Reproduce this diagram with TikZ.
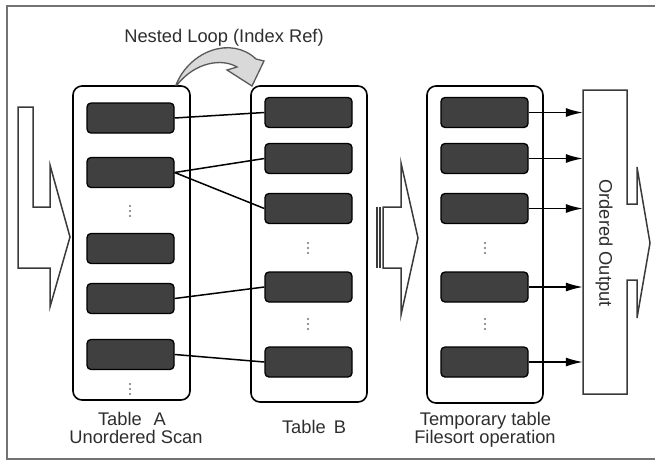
\documentclass[tikz,border=0pt]{standalone}
\usepackage{fontspec}
\setmainfont{Liberation Sans}
\usetikzlibrary{arrows.meta}
\definecolor{rowgray}{HTML}{404040}
\definecolor{txtgray}{HTML}{2E2E2E}
\definecolor{outline}{HTML}{3A3A3A}
\definecolor{loopfill}{HTML}{D9D9D9}
\begin{document}
\begin{tikzpicture}[x=1pt,y=-1pt,
  txt/.style={font=\fontsize{18.3}{19}\selectfont, text=txtgray, inner sep=0pt},
  tbl/.style={draw=black, line width=1.6pt, rounded corners=9pt, inner sep=0pt},
  row/.style={draw=black, fill=rowgray, line width=1.3pt, rounded corners=4pt,
              minimum width=87, minimum height=30, inner sep=0pt},
  link/.style={draw=black, line width=1.5pt},
  outarrow/.style={draw=black, line width=1.5pt, -{Latex[length=17pt,width=9pt]}},
  blockarrow/.style={draw=outline, line width=1.5pt, line join=miter, fill=white},
  dotsty/.style={fill=black!55}
]
\useasboundingbox (0,0) rectangle (655,461);
% frame
\draw[black!55, line width=1.6pt] (660,6) -- (7,6) -- (7,459) -- (660,459);

% left input arrow
\draw[blockarrow] (18,107) -- (33,107) -- (33,207) -- (50,207) -- (50,165) -- (70,237)
  -- (50,307) -- (50,268) -- (18,268) -- cycle;

% tables
\node[tbl, minimum width=117, minimum height=314] (tA) at (131.5,243) {};
\node[tbl, minimum width=116, minimum height=316] (tB) at (309,244) {};
\node[tbl, minimum width=116, minimum height=317] (tC) at (485,244.5) {};

% nested loop curved arrow
\draw[draw=black!65, fill=loopfill, line width=1.3pt, line join=miter]
  (176,85) .. controls (190,50) and (232,36) .. (256,59) -- (264,61) -- (252,86)
  -- (227,70) -- (237,67) .. controls (222,58) and (195,62) .. (177,85) -- cycle;
\node[txt] (loop) at (224,38) {Nested Loop (Index Ref)};

% rows of table A
\node[row] (a1) at (130.5,118) {};
\node[row] (a2) at (130.5,172.5) {};
\node[row] (a3) at (130.5,248.5) {};
\node[row] (a4) at (130.5,298.5) {};
\node[row] (a5) at (130.5,354.5) {};
% rows of table B
\node[row] (b1) at (308.5,112.5) {};
\node[row] (b2) at (308.5,158.5) {};
\node[row] (b3) at (308.5,208.5) {};
\node[row] (b4) at (308.5,287) {};
\node[row] (b5) at (308.5,362) {};
% rows of temporary table
\node[row] (c1) at (484.5,112.5) {};
\node[row] (c2) at (484.5,158.5) {};
\node[row] (c3) at (484.5,208.5) {};
\node[row] (c4) at (484.5,287) {};
\node[row] (c5) at (484.5,362) {};

% vertical dots
\foreach \x/\y in {130/211, 130/389, 308/248, 308/324, 485/248, 485/324}{
  \fill[dotsty] (\x,\y-5) circle (1.1);
  \fill[dotsty] (\x,\y) circle (1.1);
  \fill[dotsty] (\x,\y+5) circle (1.1);
}

% nested loop links
\draw[link] (a1.east) -- (b1.west);
\draw[link] (a2.east) -- (b2.west);
\draw[link] (a2.east) -- (b3.west);
\draw[link] (a4.east) -- (b4.west);
\draw[link] (a5.east) -- (b5.west);

% middle arrow
\draw[outline, line width=1.2pt] (377,207) -- (377,268) (380,207) -- (380,268);
\draw[blockarrow] (383,268) -- (383,207) -- (401,207) -- (401,163) -- (418,238)
  -- (401,315) -- (401,268) -- cycle;

% ordered output block arrow
\node[inner sep=0pt, minimum width=44, minimum height=304] (out) at (605,242) {};
\draw[blockarrow] (583,90) -- (627,90) -- (627,204) -- (637,204) -- (637,167) -- (650,243)
  -- (637,318) -- (637,280) -- (627,280) -- (627,394) -- (583,394) -- cycle;
\node[txt, rotate=-90] (outtxt) at (604,243) {Ordered Output};

% output arrows
\foreach \r in {c1,c2,c3,c4,c5}{
  \draw[outarrow] (\r.east) -- (\r.east -| out.west);
}

% labels
\node[txt, anchor=base] (labA1) at (132,425) {Table\hspace{12pt}A};
\node[txt, anchor=base] (labA2) at (136,443) {Unordered Scan};
\node[txt, anchor=base] (labB) at (314,433) {Table\hspace{8pt}B};
\node[txt, anchor=base] (labC1) at (485.5,425) {Temporary table};
\node[txt, anchor=base] (labC2) at (485,443) {Filesort operation};
\end{tikzpicture}
\end{document}
